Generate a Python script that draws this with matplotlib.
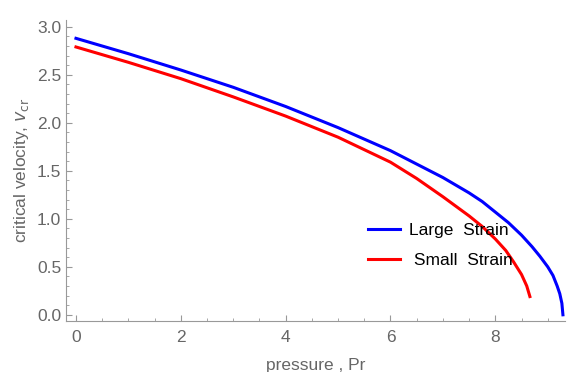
import numpy as np
import matplotlib.pyplot as plt
from matplotlib.ticker import MultipleLocator

plt.rcParams['font.family'] = ['Liberation Sans', 'DejaVu Sans']

# Large strain curve
p_large = [0, 1, 2, 3, 4, 5, 6, 6.5, 7, 7.5, 7.75, 8, 8.25, 8.5, 8.7, 8.85, 9.0, 9.1,
           9.18, 9.23, 9.27, 9.29]
v_large = [2.88, 2.72, 2.55, 2.37, 2.17, 1.95, 1.71, 1.57, 1.43, 1.27, 1.18, 1.07, 0.96,
           0.83, 0.71, 0.61, 0.50, 0.41, 0.30, 0.22, 0.12, 0.0]

# Small strain curve
p_small = [0, 1, 2, 3, 4, 5, 6, 6.5, 7, 7.5, 7.75, 8, 8.2, 8.35, 8.5, 8.6, 8.66]
v_small = [2.79, 2.63, 2.46, 2.27, 2.07, 1.85, 1.59, 1.42, 1.23, 1.03, 0.92, 0.79, 0.67,
           0.55, 0.42, 0.30, 0.19]

gray = '#999999'
txt = '#666666'
fs = 12.5

fig = plt.figure(figsize=(5.69, 3.72), dpi=100)
ax = fig.add_axes([0.116, 0.137, 0.877, 0.809])

ax.plot(p_large, v_large, color=(0, 0, 1), lw=2.2, label='Large  Strain')
ax.plot(p_small, v_small, color=(1, 0, 0), lw=2.2, label=' Small  Strain')

ax.set_xlim(-0.19, 9.33)
ax.set_ylim(-0.065, 3.07)
ax.xaxis.set_major_locator(MultipleLocator(2))
ax.xaxis.set_minor_locator(MultipleLocator(0.5))
ax.yaxis.set_major_locator(MultipleLocator(0.5))
ax.yaxis.set_minor_locator(MultipleLocator(0.1))
ax.yaxis.set_major_formatter(plt.FormatStrFormatter('%.1f'))

for s in ['top', 'right']:
    ax.spines[s].set_visible(False)
for s in ['left', 'bottom']:
    ax.spines[s].set_color(gray)
ax.tick_params(which='both', direction='in', color=gray, labelcolor=txt, labelsize=fs)
ax.tick_params(which='major', length=4)
ax.tick_params(which='minor', length=2)
ax.tick_params(axis='x', which='major', pad=6.5)

ax.set_xlabel('pressure , Pr', color=txt, fontsize=fs, labelpad=9)
ax.set_ylabel(r'critical velocity, $v_{\mathrm{cr}}$', color=txt, fontsize=fs)

ax.legend(loc='center left', bbox_to_anchor=(0.605, 0.2525), frameon=False,
          fontsize=fs, handlelength=1.85, handletextpad=0.52,
          labelspacing=0.85, borderpad=0, borderaxespad=0)

fig.savefig('out.png', dpi=100)
